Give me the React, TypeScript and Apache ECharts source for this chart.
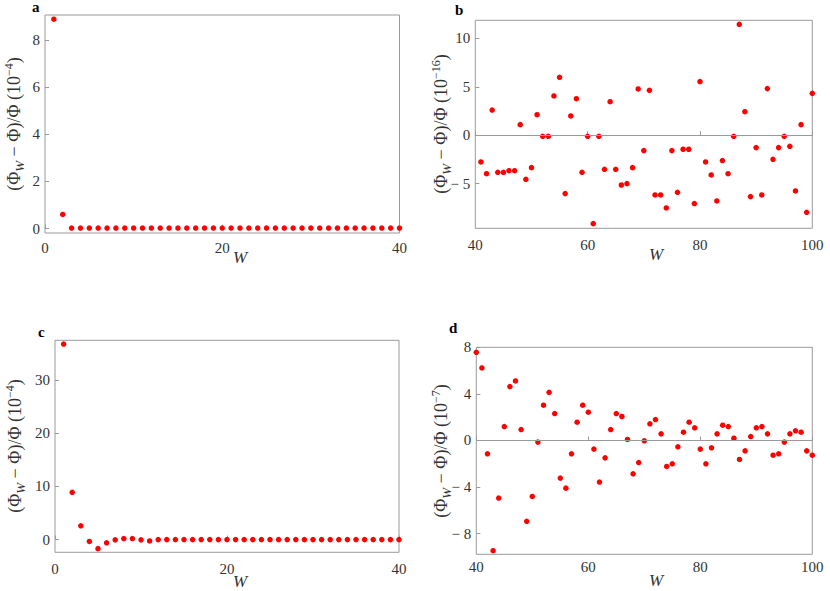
import React, { useEffect, useRef } from "react";
import * as echarts from "echarts";

// Panel a: W = 1..40
const A_START = 1;
const A_VALUES = [8.9, 0.6, 0.02, 0.02, 0.02, 0.02, 0.02, 0.02, 0.02, 0.02,
  0.02, 0.02, 0.02, 0.02, 0.02, 0.02, 0.02, 0.02, 0.02, 0.02,
  0.02, 0.02, 0.02, 0.02, 0.02, 0.02, 0.02, 0.02, 0.02, 0.02,
  0.02, 0.02, 0.02, 0.02, 0.02, 0.02, 0.02, 0.02, 0.02, 0.02];

// Panel b: W = 41..100
const B_START = 41;
const B_VALUES = [-2.75, -3.96, 2.61, -3.82, -3.82, -3.65, -3.65, 1.1, -4.54, -3.34,
  2.13, -0.1, -0.1, 4.06, 5.99, -6.02, 2.0, 3.78, -3.82, -0.1,
  -9.12, -0.1, -3.51, 3.47, -3.51, -5.13, -4.99, -3.34, 4.78, -1.58,
  4.64, -6.16, -6.16, -7.5, -1.58, -5.88, -1.44, -1.44, -7.05, 5.54,
  -2.75, -4.09, -6.78, -2.61, -3.96, -0.1, 11.46, 2.44, -6.33, -1.27,
  -6.16, 4.82, -2.48, -1.27, -0.1, -1.14, -5.74, 1.1, -7.95, 4.33];

// Panel c: W = 1..40
const C_START = 1;
const C_VALUES = [36.8, 8.9, 2.6, -0.35, -1.7, -0.6, -0.05, 0.2, 0.2, -0.05,
  -0.25, 0, 0, 0, 0, 0, 0, 0, 0, 0,
  0, 0, 0, 0, 0, 0, 0, 0, 0, 0,
  0, 0, 0, 0, 0, 0, 0, 0, 0, 0];

// Panel d: W = 40..100
const D_START = 40;
const D_VALUES = [7.57, 6.23, -1.14, -9.46, -4.94, 1.2, 4.63, 5.11, 0.94, -6.94,
  -4.8, -0.14, 3.03, 4.14, 2.31, -3.23, -4.09, -1.14, 1.57, 3.03,
  2.43, -0.74, -3.57, -1.49, 0.94, 2.31, 2.06, 0.09, -2.86, -1.89,
  -0.03, 1.43, 1.8, 0.57, -2.23, -2.0, -0.54, 0.71, 1.57, 1.09,
  -0.74, -2.0, -0.63, 0.57, 1.31, 1.2, 0.2, -1.63, -0.89, 0.34,
  1.09, 1.2, 0.57, -1.26, -1.14, -0.14, 0.57, 0.83, 0.71, -0.89,
  -1.26];

const X_TICKS_LOW = [0, 20, 40];
const X_TICKS_HIGH = [40, 60, 80, 100];
const A_Y_TICKS = [0, 2, 4, 6, 8];
const B_Y_TICKS = [-5, 0, 5, 10];
const C_Y_TICKS = [0, 10, 20, 30];
const D_Y_TICKS = [-8, -4, 0, 4, 8];
const EXPONENTS = ["−4", "−16", "−4", "−7"];
const LETTERS = ["a", "b", "c", "d"];

const FONT = "Liberation Serif";
const FRAME = "#9a9a9a";
const TEXT = "#333333";

const toPairs = (start: number, vals: number[]) => vals.map((v, i) => [start + i, v]);
const fmt = (v: number) => (v < 0 ? "− " + Math.abs(v) : String(v));

function App() {
  const ref = useRef<HTMLDivElement>(null);
  useEffect(() => {
    if (!ref.current) return;
    const chart = echarts.init(ref.current, null, { renderer: "svg" });

    const grids = [
      { left: 45, top: 15, width: 354.5, height: 218 },
      { left: 475.3, top: 20.3, width: 337, height: 208 },
      { left: 55, top: 340.3, width: 344, height: 212 },
      { left: 476.3, top: 347.3, width: 336, height: 207 },
    ];
    const xCfg = [
      { min: 0, max: 40, ticks: X_TICKS_LOW, margin: 7 },
      { min: 40, max: 100, ticks: X_TICKS_HIGH, margin: 9 },
      { min: 0, max: 40, ticks: X_TICKS_LOW, margin: 9 },
      { min: 40, max: 100, ticks: X_TICKS_HIGH, margin: 5 },
    ];
    const yCfg = [
      { min: -0.19, max: 9.08, ticks: A_Y_TICKS },
      { min: -9.6, max: 11.87, ticks: B_Y_TICKS },
      { min: -2.39, max: 37.5, ticks: C_Y_TICKS },
      { min: -9.77, max: 8.0, ticks: D_Y_TICKS },
    ];
    const data = [
      toPairs(A_START, A_VALUES),
      toPairs(B_START, B_VALUES),
      toPairs(C_START, C_VALUES),
      toPairs(D_START, D_VALUES),
    ];
    const zeroLine = [false, true, false, true];

    const titlePos = [
      [14, 124],
      [441, 124],
      [15, 446],
      [441, 451],
    ];
    const letterPos = [
      [32, 7],
      [455, 10],
      [38, 332],
      [449, 328],
    ];
    const wPos = [
      [240, 257],
      [656, 254],
      [240, 581],
      [656, 580],
    ];

    const graphic: any[] = [];
    for (let i = 0; i < 4; i++) {
      graphic.push({
        type: "text",
        x: titlePos[i][0],
        y: titlePos[i][1],
        rotation: Math.PI / 2,
        style: {
          text: `{n|(Φ}{s|W}{n| − Φ)/Φ (10}{p|${EXPONENTS[i]}}{n|)}`,
          align: "center",
          verticalAlign: "middle",
          rich: {
            n: { fontFamily: FONT, fontSize: 18, fill: TEXT, lineHeight: 23 },
            s: { fontFamily: FONT, fontSize: 13, fontStyle: "italic", fill: TEXT, lineHeight: 13, verticalAlign: "bottom" },
            p: { fontFamily: FONT, fontSize: 12, fill: TEXT, lineHeight: 12, verticalAlign: "top" },
          },
        },
      });
      graphic.push({
        type: "text",
        x: letterPos[i][0],
        y: letterPos[i][1],
        style: {
          text: LETTERS[i],
          fontFamily: FONT,
          fontSize: 15,
          fontWeight: "bold",
          fill: "#000",
          align: "left",
          verticalAlign: "middle",
        },
      });
      graphic.push({
        type: "text",
        x: wPos[i][0],
        y: wPos[i][1],
        style: {
          text: "W",
          fontFamily: FONT,
          fontSize: 17,
          fontStyle: "italic",
          fill: TEXT,
          align: "center",
          verticalAlign: "middle",
        },
      });
    }

    const option: any = {
      animation: false,
      backgroundColor: "#fff",
      textStyle: { fontFamily: FONT },
      grid: grids.map((g) => ({ ...g, show: true, borderColor: FRAME, borderWidth: 1, backgroundColor: "transparent" })),
      xAxis: xCfg.map((c, i) => ({
        type: "value",
        gridIndex: i,
        min: c.min,
        max: c.max,
        axisLine: { show: false },
        splitLine: { show: false },
        axisTick: { show: true, inside: true, length: 4, lineStyle: { color: FRAME }, customValues: c.ticks },
        axisLabel: { show: true, margin: c.margin, fontFamily: FONT, fontSize: 15, color: TEXT, customValues: c.ticks, formatter: fmt, showMinLabel: true, showMaxLabel: true },
      })),
      yAxis: yCfg.map((c, i) => ({
        type: "value",
        gridIndex: i,
        min: c.min,
        max: c.max,
        axisLine: { show: false },
        splitLine: { show: false },
        axisTick: { show: true, inside: true, length: 4, lineStyle: { color: FRAME }, customValues: c.ticks },
        axisLabel: { show: true, margin: 5, fontFamily: FONT, fontSize: 15, color: TEXT, customValues: c.ticks, formatter: fmt },
      })),
      series: data.map((d, i) => ({
        type: "scatter",
        xAxisIndex: i,
        yAxisIndex: i,
        data: d,
        symbol: "circle",
        symbolSize: 5.5,
        clip: false,
        itemStyle: { color: "#ff0000", opacity: 1 },
        markLine: zeroLine[i]
          ? {
              silent: true,
              symbol: "none",
              label: { show: false },
              lineStyle: { color: FRAME, width: 1, type: "solid" },
              data: [{ yAxis: 0 }],
            }
          : undefined,
      })),
      graphic,
    };
    chart.setOption(option);
    return () => chart.dispose();
  }, []);
  return <div ref={ref} style={{ position: "fixed", left: 0, top: 0, width: 830, height: 591, background: "#fff" }} />;
}

export default App;
